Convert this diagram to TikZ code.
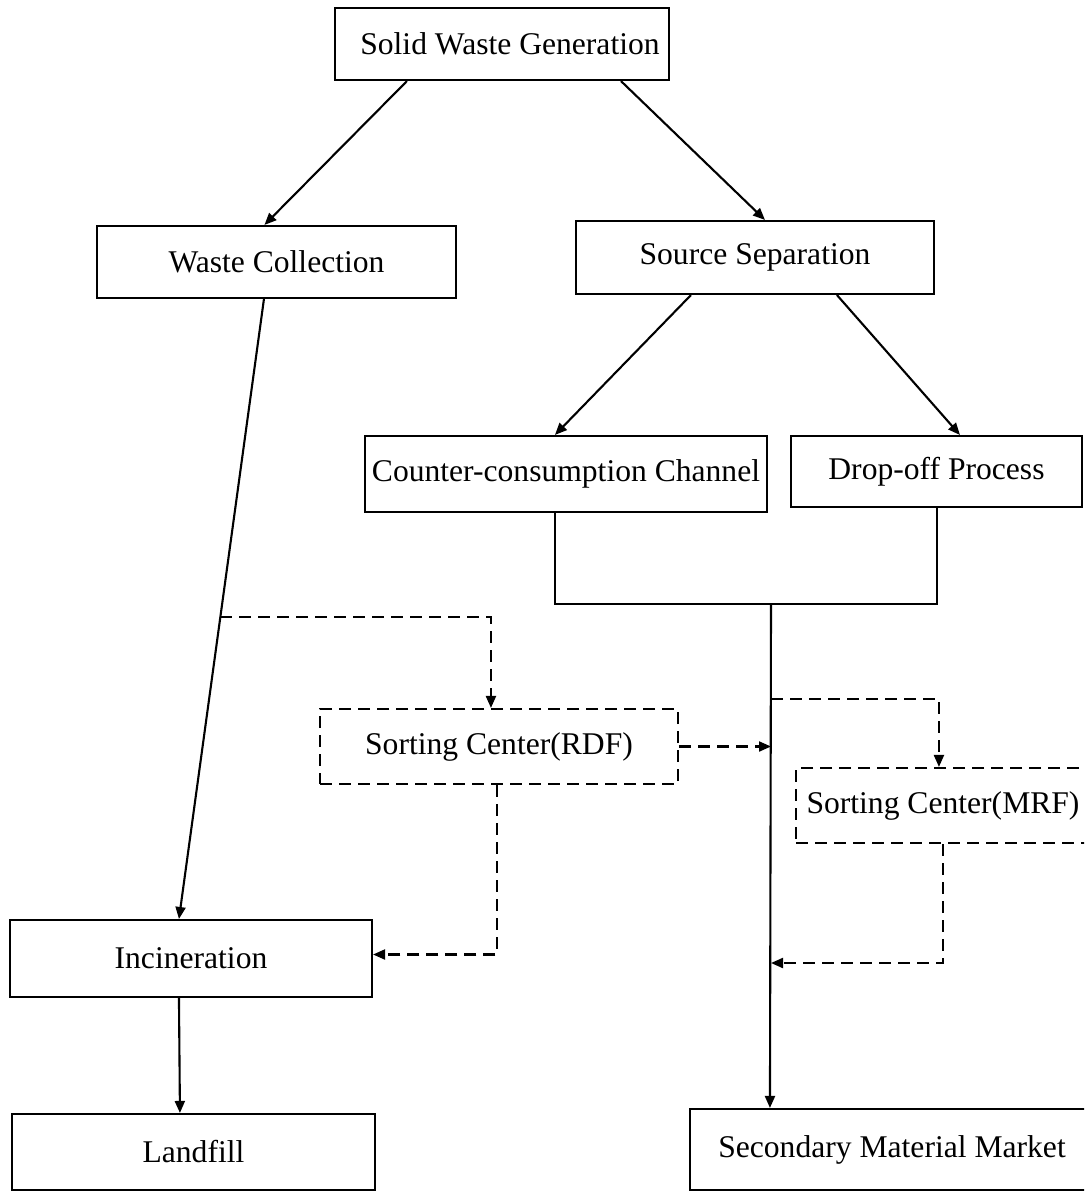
\documentclass[tikz,border=0pt]{standalone}
\usepackage{fontspec}
\setmainfont{Liberation Serif}
\usetikzlibrary{arrows.meta,calc}
\begin{document}
\begin{tikzpicture}[x=1pt,y=-1pt,
  box/.style={draw,line width=2.1pt,rectangle,inner sep=0pt,font=\fontsize{31.6pt}{36pt}\selectfont},
  dbox/.style={box,dash pattern=on 12pt off 7pt},
  ln/.style={line width=2.1pt},
  arr/.style={line width=2.1pt,-{Triangle[length=12pt,width=10pt]}},
  darr/.style={arr,dash pattern=on 12pt off 7pt},
]
\useasboundingbox (0,0) rectangle (1084,1193);
\clip (0,0) rectangle (1084,1193);
\node[box,minimum width=334pt,minimum height=72pt] (gen) at (502,44) {\hspace*{16pt}Solid Waste Generation};
\node[box,minimum width=359pt,minimum height=72pt] (wc) at (276.5,262) {Waste Collection};
\node[box,minimum width=358pt,minimum height=73pt] (ss) at (755,257.5) {Source Separation};
\node[box,minimum width=402pt,minimum height=76pt] (cc) at (566,474) {Counter-consumption Channel};
\node[box,minimum width=291pt,minimum height=71pt] (dp) at (936.5,471.5) {Drop-off Process};
\node[dbox,minimum width=358pt,minimum height=75pt] (rdf) at (499,746.5) {Sorting Center(RDF)};
\node[dbox,minimum width=294pt,minimum height=75pt] (mrf) at (943,805.5) {Sorting Center(MRF)};
\node[box,minimum width=362pt,minimum height=77pt] (inc) at (191,958.5) {Incineration};
\node[box,minimum width=363pt,minimum height=76pt] (lf) at (193.5,1152) {Landfill};
\node[box,minimum width=404pt,minimum height=81pt] (smm) at (892,1149.5) {Secondary Material Market};

% solid connectors
\draw[arr] ([xshift=73pt]gen.south west) -- ([xshift=168.5pt]wc.north west);
\draw[arr] ([xshift=287pt]gen.south west) -- ([xshift=190pt]ss.north west);
\draw[arr] ([xshift=116pt]ss.south west) -- ([xshift=191pt]cc.north west);
\draw[arr] ([xshift=262pt]ss.south west) -- ([xshift=170pt]dp.north west);
\coordinate (wcb) at ([xshift=168pt]wc.south west);
\coordinate (inct) at ([xshift=170pt]inc.north west);
\draw[arr] (wcb) -- (inct);
\draw[arr] ([xshift=170pt]inc.south west) -- ([xshift=169pt]lf.north west);

% junction of the two channels
\coordinate (j) at (771,604);
\draw[ln] ([xshift=191pt]cc.south west) |- (j) -| ([xshift=147pt]dp.south west);
\coordinate (smmin) at ([xshift=81pt]smm.north west);
\draw[arr] (j) -- (smmin);

% dashed connectors
\coordinate (p) at ($(wcb)!0.513!(inct)$);
\draw[darr] (p) -| ([xshift=172pt]rdf.north west);
\draw[darr] (rdf.east) -- (rdf.east -| j);
\coordinate (m1) at (771,699);
\draw[darr] (m1) -| ([xshift=144pt]mrf.north west);
\draw[darr] ([xshift=-2pt]rdf.south) |- ([yshift=4pt]inc.east);
\coordinate (m2) at (771,963);
\draw[darr] ([xshift=148pt]mrf.south west) |- (m2);
\end{tikzpicture}
\end{document}
